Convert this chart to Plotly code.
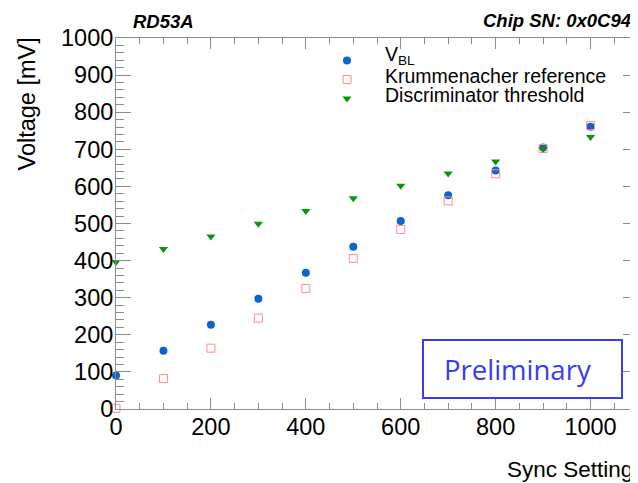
import plotly.graph_objects as go

sync_setting = [0, 100, 200, 300, 400, 500, 600, 700, 800, 900, 1000]
v_bl = [90, 157, 227, 297, 367, 437, 507, 576, 643, 705, 761]
krummenacher_ref = [2, 82, 164, 245, 325, 406, 484, 561, 634, 702, 764]
disc_threshold = [396, 431, 465, 499, 534, 568, 602, 635, 667, 701, 733]

legend_labels = ["V<sub>BL</sub>", "Krummenacher reference", "Discriminator threshold"]

# page body has an 8px margin; figure is sized so it ends at the window edge
OFF = 8
W, H = 638 - OFF, 483 - OFF
L, R, T, B = 116 - OFF, 0, 38 - OFF, 74
PW, PH = W - L - R, H - T - B

def px_x(p):
    return (p - OFF - L) / PW

def px_y(p):
    return (H - B - (p - OFF)) / PH

FONT = "Liberation Sans, Arial, Helvetica, sans-serif"
AXC = "#8c8c8c"

fig = go.Figure()
fig.add_trace(go.Scatter(x=sync_setting, y=v_bl, mode="markers", name="", cliponaxis=False,
                         hovertemplate="V_BL: %{y}<extra></extra>",
                         marker=dict(symbol="circle", size=8, color="#0b64d0")))
fig.add_trace(go.Scatter(x=sync_setting, y=krummenacher_ref, mode="markers", name="", cliponaxis=False,
                         hovertemplate="Krummenacher reference: %{y}<extra></extra>",
                         marker=dict(symbol="square-open", size=8, color="#ff8c8c",
                                     line=dict(width=1, color="#ff8c8c"))))
fig.add_trace(go.Scatter(x=sync_setting, y=disc_threshold, mode="markers", name="", cliponaxis=False,
                         hovertemplate="Discriminator threshold: %{y}<extra></extra>",
                         marker=dict(symbol="triangle-down", size=8, color="#0a960a")))

axis_common = dict(ticks="inside", showline=True, linecolor=AXC, linewidth=1,
                   tickcolor=AXC, mirror="ticks", showgrid=False, zeroline=False,
                   tickfont=dict(family=FONT, size=23.5, color="black"))

fig.update_xaxes(range=[0, 1100], dtick=200, tick0=0, ticklen=11, ticklabelstandoff=-3,
                 minor=dict(dtick=50, ticklen=6, tickcolor=AXC, ticks="inside"),
                 **axis_common)
fig.update_yaxes(range=[0, 1000], dtick=100, tick0=0, ticklen=15, ticklabelstandoff=-3,
                 minor=dict(dtick=20, ticklen=8, tickcolor=AXC, ticks="inside"),
                 **axis_common)

annotations = [
    dict(text="<b><i>RD53A</i></b>", x=px_x(131), y=px_y(21.5), xanchor="left", yanchor="middle",
         font=dict(family=FONT, size=18.5, color="black")),
    dict(text="<b><i>Chip SN: 0x0C94</i></b>", x=px_x(633), y=px_y(20.5), xanchor="right", yanchor="middle",
         font=dict(family=FONT, size=18.5, color="black")),
    dict(text="Voltage [mV]", textangle=-90, x=px_x(27), y=px_y(36), xanchor="center", yanchor="top",
         font=dict(family=FONT, size=23.5, color="black")),
    dict(text="Sync Setting", x=px_x(635), y=px_y(469), xanchor="right", yanchor="middle",
         font=dict(family=FONT, size=22.5, color="black")),
    dict(text="Preliminary", x=px_x(517), y=px_y(369), xanchor="center", yanchor="middle",
         font=dict(family="Open Sans, Noto Sans, sans-serif", size=27.5, color="#3b3bf0")),
]
leg_y = [55, 76, 95]
for lab, yy in zip(legend_labels, leg_y):
    annotations.append(dict(text=lab, x=px_x(383), y=px_y(yy), xanchor="left", yanchor="middle",
                            font=dict(family=FONT, size=19.5, color="black")))
for a in annotations:
    a.update(xref="paper", yref="paper", showarrow=False)

fig.add_shape(type="rect", xref="paper", yref="paper",
              x0=px_x(423), x1=px_x(622), y0=px_y(398), y1=px_y(340),
              line=dict(color="#3b3bf0", width=2), fillcolor="rgba(0,0,0,0)")

fig.update_layout(
    width=W, height=H, margin=dict(l=L, r=R, t=T, b=B, pad=0),
    paper_bgcolor="white", plot_bgcolor="white",
    annotations=annotations,
    showlegend=True,
    legend=dict(x=px_x(327), y=px_y(46), xanchor="left", yanchor="top",
                bgcolor="rgba(0,0,0,0)", borderwidth=0,
                font=dict(family=FONT, size=12), itemsizing="trace", tracegroupgap=0),
)

fig.write_html("out.html")
